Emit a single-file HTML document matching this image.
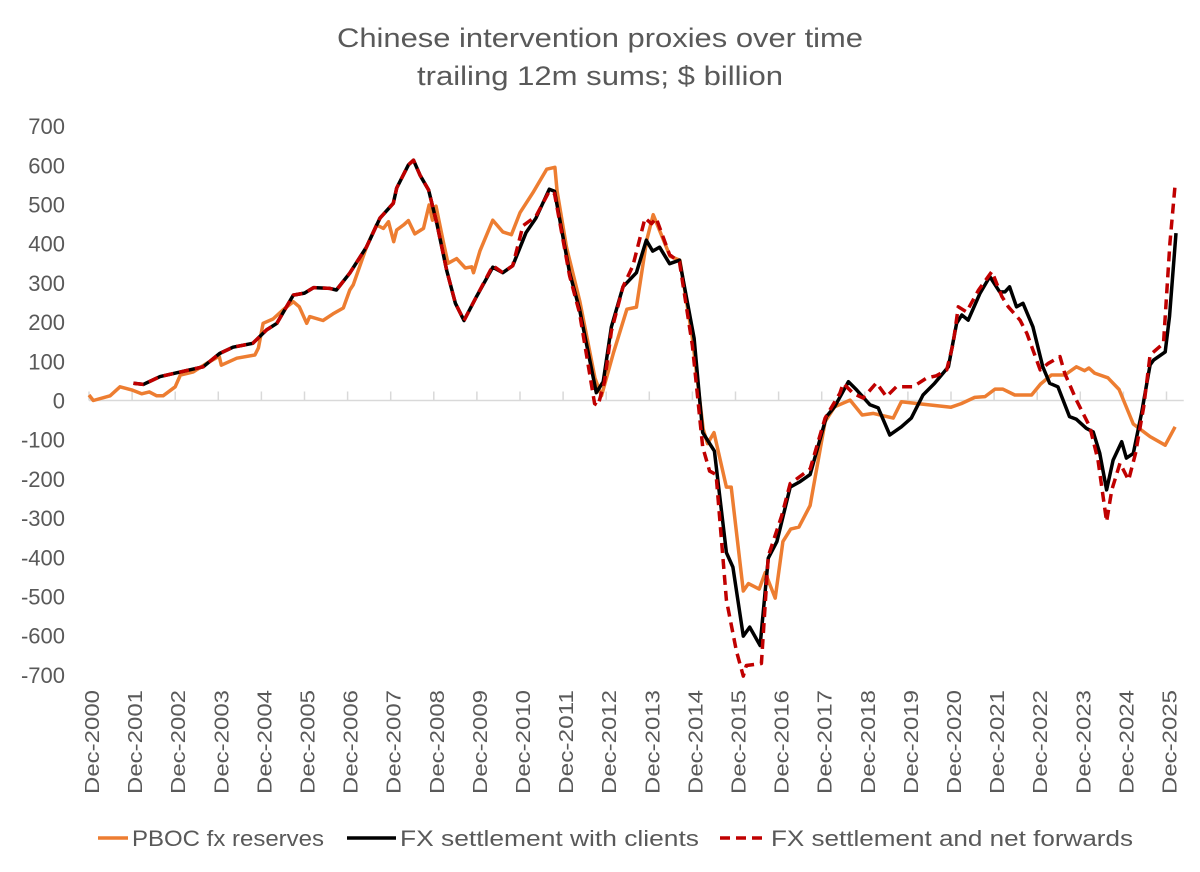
<!DOCTYPE html>
<html><head><meta charset="utf-8">
<style>
html,body{margin:0;padding:0;background:#fff;}
svg{display:block;font-family:"Liberation Sans",sans-serif;}
</style></head>
<body>
<svg id="chart" width="1200" height="872" viewBox="0 0 1200 872" xmlns="http://www.w3.org/2000/svg">
<rect width="1200" height="872" fill="#fff"/>
<text x="600" y="47" text-anchor="middle" font-size="27" fill="#595959" textLength="526" lengthAdjust="spacingAndGlyphs">Chinese intervention proxies over time</text>
<text x="600" y="85" text-anchor="middle" font-size="27" fill="#595959" textLength="366" lengthAdjust="spacingAndGlyphs">trailing 12m sums; $ billion</text>
<g id="yaxis"></g>
<g id="xaxis"></g>
<g id="series"></g>
<g>
  <line x1="98" y1="838" x2="128" y2="838" stroke="#ED7D31" stroke-width="3.5"/>
  <text x="132" y="846" font-size="22" fill="#595959" textLength="192" lengthAdjust="spacingAndGlyphs">PBOC fx reserves</text>
  <line x1="347" y1="838" x2="396" y2="838" stroke="#000" stroke-width="3.5"/>
  <text x="400" y="846" font-size="22" fill="#595959" textLength="299" lengthAdjust="spacingAndGlyphs">FX settlement with clients</text>
  <line x1="720" y1="838" x2="768" y2="838" stroke="#C00000" stroke-width="3.5" stroke-dasharray="10,6"/>
  <text x="771" y="846" font-size="22" fill="#595959" textLength="362" lengthAdjust="spacingAndGlyphs">FX settlement and net forwards</text>
</g>
</svg>
<script>
const yTicks = [700,600,500,400,300,200,100,0,-100,-200,-300,-400,-500,-600,-700];
const xYears = [2000,2001,2002,2003,2004,2005,2006,2007,2008,2009,2010,2011,2012,2013,2014,2015,2016,2017,2018,2019,2020,2021,2022,2023,2024,2025];
// t = years since Dec-2000
const pbocT = [0,0.1,0.49,0.72,0.99,1.22,1.4,1.57,1.72,2.0,2.12,2.42,2.73,3.02,3.07,3.43,3.85,3.93,4.04,4.27,4.5,4.74,4.88,5.05,5.12,5.43,5.66,5.9,6.05,6.13,6.44,6.67,6.83,6.95,7.07,7.14,7.3,7.41,7.56,7.76,7.89,7.97,8.05,8.22,8.33,8.53,8.73,8.88,8.92,9.07,9.37,9.6,9.8,10.0,10.3,10.62,10.81,10.86,11.08,11.39,11.74,11.89,12.17,12.48,12.7,12.94,13.09,13.48,13.71,14.0,14.25,14.35,14.5,14.79,14.9,15.18,15.3,15.55,15.69,15.92,16.1,16.28,16.47,16.73,17.08,17.3,17.66,17.94,18.2,18.66,18.85,19.23,20.0,20.24,20.55,20.79,21.02,21.2,21.48,21.87,22.08,22.33,22.64,22.91,23.1,23.2,23.33,23.64,23.9,24.23,24.62,24.97,25.2];
const pbocV = [14,0,12,35,27,17,22,12,12,35,65,73,95,113,90,108,116,134,197,208,231,252,239,197,214,204,221,236,282,295,392,448,439,456,405,435,448,459,425,439,499,460,496,405,350,362,338,341,326,381,460,430,423,479,530,590,595,534,391,252,57,12,122,233,238,409,474,368,358,159,-73,-110,-82,-221,-221,-486,-467,-481,-439,-504,-360,-328,-323,-268,-54,-16,1,-37,-33,-45,-3,-8,-17,-8,8,10,29,29,14,14,42,65,65,86,76,83,70,58,28,-60,-92,-114,-67];
const settleT = [1.03,1.26,1.65,2.12,2.65,3.03,3.34,3.8,4.12,4.36,4.74,5.0,5.21,5.59,5.74,6.05,6.44,6.75,7.06,7.14,7.41,7.53,7.68,7.88,8.07,8.3,8.5,8.7,8.99,9.37,9.6,9.83,10.14,10.37,10.68,10.8,11.15,11.38,11.77,11.93,12.12,12.39,12.7,12.93,13.08,13.24,13.47,13.7,14.04,14.24,14.51,14.79,14.94,15.18,15.33,15.57,15.76,15.96,16.27,16.5,16.73,17.11,17.3,17.62,17.81,18.12,18.31,18.58,18.85,19.08,19.35,19.62,19.94,20.13,20.25,20.4,20.67,20.9,21.13,21.25,21.36,21.52,21.67,21.9,22.13,22.29,22.48,22.75,22.91,23.14,23.3,23.45,23.61,23.76,23.96,24.07,24.23,24.42,24.62,24.7,24.97,25.07,25.22];
const settleV = [44,41,61,73,86,120,136,146,180,197,269,274,288,286,282,325,392,465,503,542,601,613,575,537,452,332,248,204,265,340,326,344,428,465,539,534,326,233,20,48,188,290,326,409,381,391,349,358,159,-82,-129,-388,-425,-601,-578,-625,-402,-360,-221,-207,-189,-41,-16,48,27,-11,-19,-88,-67,-45,14,44,86,197,218,205,273,316,277,277,290,239,248,188,86,44,35,-41,-48,-71,-80,-134,-228,-152,-105,-147,-135,-33,91,103,124,214,427];
const fwdT = [1.03,1.26,1.65,2.12,2.65,3.03,3.34,3.8,4.12,4.36,4.74,5.0,5.21,5.59,5.74,6.05,6.44,6.75,7.06,7.14,7.41,7.53,7.68,7.88,8.07,8.3,8.5,8.7,8.99,9.37,9.6,9.83,10.07,10.37,10.68,10.8,11.15,11.38,11.73,11.81,11.96,12.12,12.39,12.62,12.9,13.05,13.16,13.47,13.7,14.0,14.24,14.4,14.55,14.79,15.02,15.18,15.25,15.6,15.76,16.07,16.27,16.73,17.08,17.42,17.5,17.73,17.96,18.27,18.5,18.73,19.12,19.43,19.66,19.9,20.05,20.17,20.36,20.64,20.95,21.18,21.33,21.6,21.76,22.07,22.26,22.53,22.64,22.91,23.22,23.41,23.61,23.73,23.92,24.12,24.28,24.47,24.62,24.93,25.08,25.2];
const fwdV = [44,41,61,73,86,120,136,146,180,197,269,274,288,286,282,325,392,465,503,542,601,613,575,537,452,332,248,204,265,344,326,344,446,470,534,528,318,224,-8,-13,48,177,290,344,465,451,465,372,353,140,-119,-180,-189,-509,-639,-703,-676,-671,-397,-295,-212,-175,-45,18,44,18,6,45,10,35,35,57,63,78,146,239,226,282,329,265,239,205,171,78,95,112,69,1,-67,-152,-309,-228,-160,-203,-135,-16,116,146,401,550];

const X0 = 89, YEARW = 43.1, Y0 = 400.5, YS = 0.392;
function xPos(t){ return X0 + t*YEARW; }
function yPos(v){ return Y0 - v*YS; }
const NS = "http://www.w3.org/2000/svg";
const yAxis = document.getElementById('yaxis');
const xAxis = document.getElementById('xaxis');
const seriesG = document.getElementById('series');

yTicks.forEach(v => {
  const t = document.createElementNS(NS,'text');
  t.setAttribute('x', 65);
  t.setAttribute('y', yPos(v) + 8);
  t.setAttribute('text-anchor','end');
  t.setAttribute('font-size','22');
  t.setAttribute('fill','#595959');
  t.textContent = v;
  
  
  yAxis.appendChild(t);
});

const zl = document.createElementNS(NS,'line');
zl.setAttribute('x1', X0); zl.setAttribute('x2', xPos(25.4));
zl.setAttribute('y1', yPos(0)); zl.setAttribute('y2', yPos(0));
zl.setAttribute('stroke','#d9d9d9'); zl.setAttribute('stroke-width','1.5');


xAxis.appendChild(zl);

xYears.forEach((yr,i) => {
  const x = xPos(yr - 2000);
  const tk = document.createElementNS(NS,'line');
  tk.setAttribute('x1', x); tk.setAttribute('x2', x);
  tk.setAttribute('y1', yPos(0)-9); tk.setAttribute('y2', yPos(0));
  tk.setAttribute('stroke','#d9d9d9'); tk.setAttribute('stroke-width','1.5');
  
  
  xAxis.appendChild(tk);
  const lb = document.createElementNS(NS,'text');
  lb.setAttribute('transform', 'translate(' + (x+10) + ',690) rotate(-90)');
  lb.setAttribute('text-anchor','end');
  lb.setAttribute('font-size','20');
  lb.setAttribute('fill','#595959');
  lb.setAttribute('textLength','104');
  lb.setAttribute('lengthAdjust','spacingAndGlyphs');
  lb.textContent = 'Dec-' + yr;
  
  
  xAxis.appendChild(lb);
});

function drawLine(ts, vs, color, dash, name){
  const p = document.createElementNS(NS,'polyline');
  p.setAttribute('points', ts.map((t,i) => xPos(t).toFixed(1)+','+yPos(vs[i]).toFixed(1)).join(' '));
  p.setAttribute('fill','none');
  p.setAttribute('stroke', color);
  p.setAttribute('stroke-width','3.5');
  p.setAttribute('stroke-linejoin','round');
  if (dash) p.setAttribute('stroke-dasharray', dash);
  
  
  seriesG.appendChild(p);
}
drawLine(pbocT, pbocV, '#ED7D31', null, 'pboc-fx-reserves-line');
drawLine(settleT, settleV, '#000000', null, 'fx-settlement-line');
drawLine(fwdT, fwdV, '#C00000', '10,6', 'fx-settlement-forwards-line');
</script>
</body></html>
